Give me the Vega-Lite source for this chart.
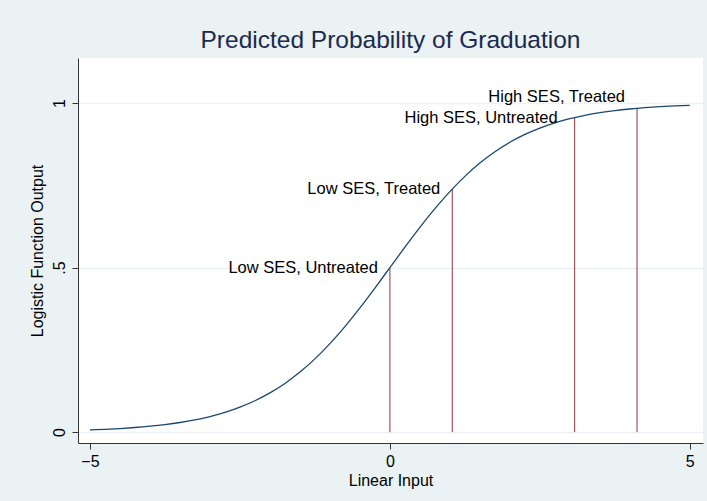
{
  "$schema": "https://vega.github.io/schema/vega-lite/v6.json",
  "autosize": {"type": "none"},
  "width": 625,
  "height": 385,
  "padding": {"left": 78, "top": 58, "right": 4, "bottom": 58},
  "background": "#EAF2F3",
  "config": {
    "font": "Liberation Sans",
    "view": {"fill": "white", "stroke": null},
    "axis": {"labelFont": "Liberation Sans", "titleFont": "Liberation Sans", "labelColor": "#000000", "titleColor": "#000000", "titleFontWeight": "normal", "domainColor": "#333333", "tickColor": "#333333", "labelFontSize": 16, "titleFontSize": 16}
  },
  "title": {"text": "Predicted Probability of Graduation", "fontSize": 24.5, "fontWeight": "normal", "color": "#1c2a50", "anchor": "middle", "offset": 5, "font": "Liberation Sans"},
  "datasets": {
    "curve": [
      {"x": -5, "p": 0.00669}, {"x": -4.75, "p": 0.00858}, {"x": -4.5, "p": 0.01099}, {"x": -4.25, "p": 0.01406},
      {"x": -4, "p": 0.01799}, {"x": -3.75, "p": 0.02298}, {"x": -3.5, "p": 0.02931}, {"x": -3.25, "p": 0.03733},
      {"x": -3, "p": 0.04743}, {"x": -2.75, "p": 0.06006}, {"x": -2.5, "p": 0.07586}, {"x": -2.25, "p": 0.09534},
      {"x": -2, "p": 0.1192}, {"x": -1.75, "p": 0.14805}, {"x": -1.5, "p": 0.18243}, {"x": -1.25, "p": 0.2227},
      {"x": -1, "p": 0.26894}, {"x": -0.75, "p": 0.32082}, {"x": -0.5, "p": 0.37754}, {"x": -0.25, "p": 0.43782},
      {"x": 0, "p": 0.5}, {"x": 0.25, "p": 0.56218}, {"x": 0.5, "p": 0.62246}, {"x": 0.75, "p": 0.67918},
      {"x": 1, "p": 0.73106}, {"x": 1.25, "p": 0.7773}, {"x": 1.5, "p": 0.81757}, {"x": 1.75, "p": 0.85195},
      {"x": 2, "p": 0.8808}, {"x": 2.25, "p": 0.90466}, {"x": 2.5, "p": 0.92414}, {"x": 2.75, "p": 0.93994},
      {"x": 3, "p": 0.95257}, {"x": 3.25, "p": 0.96267}, {"x": 3.5, "p": 0.97069}, {"x": 3.75, "p": 0.97702},
      {"x": 4, "p": 0.98201}, {"x": 4.25, "p": 0.98594}, {"x": 4.5, "p": 0.98901}, {"x": 4.75, "p": 0.99142},
      {"x": 5, "p": 0.99331}
    ],
    "groups": [
      {"label": "Low SES, Untreated", "x": 0, "p": 0.5, "base": 0, "pos": "left"},
      {"label": "Low SES, Treated", "x": 1.04, "p": 0.739, "base": 0, "pos": "left"},
      {"label": "High SES, Untreated", "x": 3.08, "p": 0.956, "base": 0, "pos": "farleft"},
      {"label": "High SES, Treated", "x": 4.12, "p": 0.984, "base": 0, "pos": "upleft"}
    ]
  },
  "layer": [
    {
      "data": {"name": "groups"},
      "mark": {"type": "rule", "color": "#90353b", "strokeWidth": 1},
      "encoding": {
        "x": {"field": "x", "type": "quantitative", "scale": {"domain": [-5.2, 5.22], "nice": false, "zero": false},
          "axis": {"title": "Linear Input", "values": [-5, 0, 5], "format": "d", "grid": false, "tickSize": 6, "labelPadding": 4, "titlePadding": 3}},
        "y": {"field": "base", "type": "quantitative", "scale": {"domain": [-0.033, 1.137], "nice": false, "zero": false},
          "axis": {"title": "Logistic Function Output", "values": [0, 0.5, 1], "grid": true, "gridColor": "#EAF2F3", "gridWidth": 1.5, "tickSize": 6, "labelAngle": -90, "labelAlign": "center", "labelBaseline": "bottom", "labelPadding": 5, "titlePadding": 6,
            "labelExpr": "datum.value == 0.5 ? '.5' : format(datum.value, 'd')"}},
        "y2": {"field": "p"}
      }
    },
    {
      "data": {"name": "curve"},
      "mark": {"type": "line", "color": "#1a476f", "strokeWidth": 1.3, "interpolate": "monotone"},
      "encoding": {
        "x": {"field": "x", "type": "quantitative"},
        "y": {"field": "p", "type": "quantitative"}
      }
    },
    {
      "data": {"name": "groups"},
      "transform": [{"filter": "datum.pos == 'left'"}],
      "mark": {"type": "text", "align": "right", "baseline": "middle", "dx": -12, "dy": 0, "fontSize": 16.5, "font": "Liberation Sans", "color": "#000000"},
      "encoding": {
        "x": {"field": "x", "type": "quantitative"},
        "y": {"field": "p", "type": "quantitative"},
        "text": {"field": "label"}
      }
    },
    {
      "data": {"name": "groups"},
      "transform": [{"filter": "datum.pos == 'farleft'"}],
      "mark": {"type": "text", "align": "right", "baseline": "middle", "dx": -17, "dy": 0, "fontSize": 16.5, "font": "Liberation Sans", "color": "#000000"},
      "encoding": {
        "x": {"field": "x", "type": "quantitative"},
        "y": {"field": "p", "type": "quantitative"},
        "text": {"field": "label"}
      }
    },
    {
      "data": {"name": "groups"},
      "transform": [{"filter": "datum.pos == 'upleft'"}],
      "mark": {"type": "text", "align": "right", "baseline": "middle", "dx": -12, "dy": -11, "fontSize": 16.5, "font": "Liberation Sans", "color": "#000000"},
      "encoding": {
        "x": {"field": "x", "type": "quantitative"},
        "y": {"field": "p", "type": "quantitative"},
        "text": {"field": "label"}
      }
    }
  ]
}
